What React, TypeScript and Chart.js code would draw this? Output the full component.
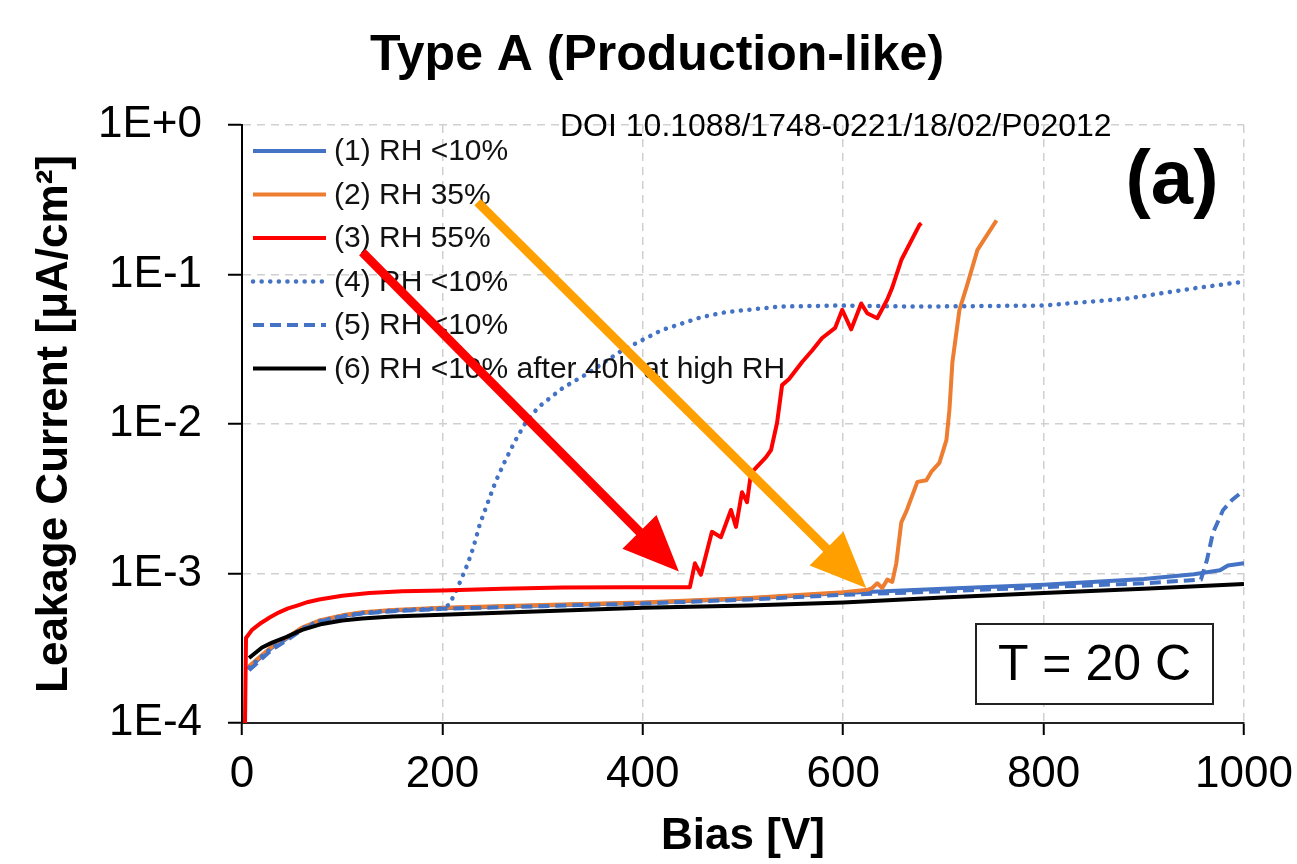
import React, { useEffect, useRef } from 'react';
import { Chart, registerables } from 'chart.js';

Chart.register(...registerables);

const FONT = '"Liberation Sans", Arial, sans-serif';

// ---- axis ticks ----
const xTickValues = [0, 200, 400, 600, 800, 1000];
const xTickLabels = ['0', '200', '400', '600', '800', '1000'];
const yTickValues = [1e-4, 1e-3, 1e-2, 1e-1, 1];
const yTickLabels = ['1E-4', '1E-3', '1E-2', '1E-1', '1E+0'];

// ---- legend labels ----
const seriesLabels = [
  '(1) RH <10%',
  '(2) RH 35%',
  '(3) RH 55%',
  '(4) RH <10%',
  '(5) RH <10%',
  '(6) RH <10% after 40h at high RH',
];

// ---- (1) RH <10%  solid blue ----
const s1Bias = [7, 20, 30, 44, 60, 77, 100, 120, 150, 200, 300, 399, 506, 600, 700, 800, 900, 950, 976, 984, 1000];
const s1Current = [2.35e-4, 2.8e-4, 3.2e-4, 3.65e-4, 4.3e-4, 4.8e-4, 5.2e-4, 5.45e-4, 5.65e-4, 5.85e-4, 6.1e-4, 6.35e-4, 6.8e-4, 7.4e-4, 7.9e-4, 8.4e-4, 9.2e-4, 9.9e-4, 1.05e-3, 1.13e-3, 1.17e-3];

// ---- (2) RH 35%  orange ----
const s2Bias = [7, 20, 30, 44, 60, 77, 100, 120, 150, 200, 300, 399, 506, 600, 625, 629, 634, 639, 644, 649, 653, 658, 663, 674, 683, 688, 696, 703, 706, 709, 716, 723, 734, 753];
const s2Current = [2.4e-4, 2.85e-4, 3.25e-4, 3.7e-4, 4.35e-4, 4.85e-4, 5.25e-4, 5.5e-4, 5.7e-4, 5.9e-4, 6.15e-4, 6.4e-4, 6.85e-4, 7.5e-4, 7.8e-4, 8.0e-4, 8.6e-4, 8.0e-4, 9.1e-4, 8.8e-4, 1.17e-3, 2.2e-3, 2.6e-3, 4.1e-3, 4.2e-3, 4.8e-3, 5.5e-3, 7.8e-3, 1.24e-2, 2.6e-2, 5.8e-2, 8.2e-2, 0.146, 0.23];

// ---- (3) RH 55%  red ----
const s3Bias = [3, 4, 10, 19, 28, 37, 46, 55, 66, 77, 100, 127, 160, 200, 260, 320, 380, 447, 452, 458, 469, 478, 488, 493, 499, 504, 508, 523, 528, 534, 539, 546, 559, 569, 579, 592, 599, 608, 618, 624, 634, 644, 649, 658, 676, 678];
const s3Current = [1e-4, 3.7e-4, 4.2e-4, 4.67e-4, 5.1e-4, 5.5e-4, 5.85e-4, 6.1e-4, 6.45e-4, 6.7e-4, 7.1e-4, 7.4e-4, 7.6e-4, 7.7e-4, 7.9e-4, 8.05e-4, 8.1e-4, 8.1e-4, 1.17e-3, 9.8e-4, 1.9e-3, 1.75e-3, 2.66e-3, 2.05e-3, 3.5e-3, 3.0e-3, 4.7e-3, 6.0e-3, 6.7e-3, 1.02e-2, 1.82e-2, 2.0e-2, 2.6e-2, 3.1e-2, 3.76e-2, 4.4e-2, 5.8e-2, 4.3e-2, 6.4e-2, 5.5e-2, 5.1e-2, 6.8e-2, 8.2e-2, 0.125, 0.214, 0.22];

// ---- (4) RH <10%  dotted blue ----
const s4Bias = [7, 20, 30, 44, 60, 77, 100, 120, 150, 200, 207, 213, 219, 225, 231, 237, 245, 253, 263, 273, 283, 296, 320, 346, 379, 419, 459, 483, 536, 596, 676, 800, 883, 951, 997];
const s4Current = [2.35e-4, 2.8e-4, 3.2e-4, 3.65e-4, 4.3e-4, 4.8e-4, 5.2e-4, 5.45e-4, 5.65e-4, 5.85e-4, 6.2e-4, 7.5e-4, 9.2e-4, 1.15e-3, 1.5e-3, 2.1e-3, 2.95e-3, 4.1e-3, 5.75e-3, 7.8e-3, 1.02e-2, 1.3e-2, 1.74e-2, 2.2e-2, 3.1e-2, 4.25e-2, 5.2e-2, 5.6e-2, 6.1e-2, 6.2e-2, 6.1e-2, 6.2e-2, 6.9e-2, 8.1e-2, 8.9e-2];

// ---- (5) RH <10%  dashed blue ----
const s5Bias = [7, 20, 30, 44, 60, 77, 100, 120, 150, 200, 300, 399, 506, 600, 700, 800, 900, 957, 963, 969, 979, 988, 1000];
const s5Current = [2.25e-4, 2.7e-4, 3.1e-4, 3.55e-4, 4.2e-4, 4.75e-4, 5.15e-4, 5.4e-4, 5.6e-4, 5.8e-4, 6.05e-4, 6.3e-4, 6.7e-4, 7.2e-4, 7.6e-4, 8.1e-4, 8.6e-4, 9.1e-4, 1.23e-3, 1.87e-3, 2.65e-3, 3.1e-3, 3.6e-3];

// ---- (6) RH <10% after 40h at high RH  black ----
const s6Bias = [7, 20, 30, 44, 60, 80, 100, 120, 150, 200, 300, 400, 506, 600, 700, 800, 900, 1000];
const s6Current = [2.72e-4, 3.2e-4, 3.45e-4, 3.75e-4, 4.2e-4, 4.6e-4, 4.85e-4, 5.0e-4, 5.15e-4, 5.3e-4, 5.6e-4, 5.9e-4, 6.1e-4, 6.4e-4, 6.9e-4, 7.4e-4, 7.9e-4, 8.5e-4];

// ---- annotation arrows (data coordinates: [bias, current]) ----
const redArrowFrom = [120, 0.141];
const redArrowTo = [436, 1.03e-3];
const orangeArrowFrom = [235, 0.305];
const orangeArrowTo = [623, 8.0e-4];

const pts = (xs: number[], ys: number[]) => xs.map((x, i) => ({ x, y: ys[i] }));

function drawArrow(ctx: CanvasRenderingContext2D, x1: number, y1: number, x2: number, y2: number, color: string) {
  const ang = Math.atan2(y2 - y1, x2 - x1);
  const headLen = 56;
  const headHalf = 24;
  const bx = x2 - headLen * Math.cos(ang);
  const by = y2 - headLen * Math.sin(ang);
  ctx.save();
  ctx.strokeStyle = color;
  ctx.fillStyle = color;
  ctx.lineWidth = 9;
  ctx.lineCap = 'butt';
  ctx.beginPath();
  ctx.moveTo(x1, y1);
  ctx.lineTo(bx + 2 * Math.cos(ang), by + 2 * Math.sin(ang));
  ctx.stroke();
  ctx.beginPath();
  ctx.moveTo(x2, y2);
  ctx.lineTo(bx + headHalf * Math.sin(ang), by - headHalf * Math.cos(ang));
  ctx.lineTo(bx - headHalf * Math.sin(ang), by + headHalf * Math.cos(ang));
  ctx.closePath();
  ctx.fill();
  ctx.restore();
}

const overlayPlugin = {
  id: 'overlay',
  afterDraw(chart: any) {
    const { ctx, chartArea, scales } = chart;
    const xs = scales.x;
    const ys = scales.y;

    // Title
    ctx.save();
    ctx.fillStyle = '#000';
    ctx.textAlign = 'center';
    ctx.textBaseline = 'middle';
    ctx.font = `bold 50px ${FONT}`;
    ctx.fillText('Type A (Production-like)', 657, 56);

    // DOI
    ctx.font = `32px ${FONT}`;
    ctx.textAlign = 'left';
    ctx.fillText('DOI 10.1088/1748-0221/18/02/P02012', 560, 127);

    // (a)
    ctx.font = `bold 76px ${FONT}`;
    ctx.textAlign = 'center';
    ctx.fillText('(a)', 1172, 182);

    // Legend
    const datasets = chart.data.datasets;
    ctx.font = `30px ${FONT}`;
    ctx.textAlign = 'left';
    for (let i = 0; i < datasets.length; i++) {
      const ds = datasets[i];
      const y = chartArea.top + 26 + i * 43.5;
      ctx.save();
      ctx.strokeStyle = ds.borderColor;
      ctx.lineWidth = ds.borderWidth;
      ctx.setLineDash(ds.borderDash || []);
      ctx.lineCap = ds.borderCapStyle || 'butt';
      ctx.beginPath();
      ctx.moveTo(chartArea.left + 11, y);
      ctx.lineTo(chartArea.left + 84, y);
      ctx.stroke();
      ctx.restore();
      ctx.fillStyle = '#111';
      ctx.fillText(ds.label, chartArea.left + 92, y + 1);
    }

    // T = 20 C box
    const bw = 237, bh = 80;
    const bxr = chartArea.right - 31;
    const byb = chartArea.bottom - 19;
    ctx.lineWidth = 2;
    ctx.strokeStyle = '#222';
    ctx.setLineDash([]);
    ctx.fillStyle = '#fff';
    ctx.fillRect(bxr - bw, byb - bh, bw, bh);
    ctx.strokeRect(bxr - bw, byb - bh, bw, bh);
    ctx.fillStyle = '#000';
    ctx.font = `50px ${FONT}`;
    ctx.textAlign = 'center';
    ctx.fillText('T = 20 C', bxr - bw / 2, byb - bh / 2 + 2);
    ctx.restore();

    // Arrows
    drawArrow(ctx, xs.getPixelForValue(redArrowFrom[0]), ys.getPixelForValue(redArrowFrom[1]),
      xs.getPixelForValue(redArrowTo[0]), ys.getPixelForValue(redArrowTo[1]), '#FF0000');
    drawArrow(ctx, xs.getPixelForValue(orangeArrowFrom[0]), ys.getPixelForValue(orangeArrowFrom[1]),
      xs.getPixelForValue(orangeArrowTo[0]), ys.getPixelForValue(orangeArrowTo[1]), '#FFA000');
  },
};

export default function App() {
  const ref = useRef<HTMLCanvasElement | null>(null);

  useEffect(() => {
    if (!ref.current) return;
    const blue = '#4472C4';
    const base = { pointRadius: 0, fill: false, tension: 0, borderJoinStyle: 'round' as const };
    const chart = new Chart(ref.current, {
      type: 'line',
      data: {
        datasets: [
          { ...base, label: seriesLabels[0], data: pts(s1Bias, s1Current), borderColor: blue, borderWidth: 4, order: 6 },
          { ...base, label: seriesLabels[1], data: pts(s2Bias, s2Current), borderColor: '#ED7D31', borderWidth: 4, order: 5 },
          { ...base, label: seriesLabels[2], data: pts(s3Bias, s3Current), borderColor: '#FF0000', borderWidth: 4, order: 1 },
          { ...base, label: seriesLabels[3], data: pts(s4Bias, s4Current), borderColor: blue, borderWidth: 4.5, borderDash: [0.1, 8.5], borderCapStyle: 'round', order: 3 },
          { ...base, label: seriesLabels[4], data: pts(s5Bias, s5Current), borderColor: blue, borderWidth: 4, borderDash: [11, 6], order: 4 },
          { ...base, label: seriesLabels[5], data: pts(s6Bias, s6Current), borderColor: '#000000', borderWidth: 4, order: 2 },
        ],
      },
      options: {
        animation: false,
        responsive: false,
        devicePixelRatio: 1,
        layout: { padding: { left: 0, right: 53, top: 125, bottom: 0 } },
        plugins: {
          legend: { display: false },
          title: { display: false },
          tooltip: { enabled: false },
        },
        scales: {
          x: {
            type: 'linear',
            min: 0,
            max: 1000,
            afterBuildTicks: (scale: any) => {
              scale.ticks = xTickValues.map((v) => ({ value: v }));
            },
            afterFit: (scale: any) => {
              scale.height = 141;
              scale.paddingLeft = 0;
              scale.paddingRight = 0;
            },
            ticks: {
              font: { family: FONT, size: 44 },
              color: '#000',
              padding: 13,
              maxRotation: 0,
              autoSkip: false,
              callback: (value: any) => {
                const i = xTickValues.indexOf(Number(value));
                return i >= 0 ? xTickLabels[i] : '';
              },
            },
            grid: {
              color: '#d0d0d0',
              lineWidth: 1.5,
              tickColor: '#000',
              tickWidth: 2,
              tickLength: 12,
              tickBorderDash: [],
            },
            border: { display: true, color: '#222', width: 2, dash: [8, 6] },
            title: {
              display: true,
              text: 'Bias [V]',
              font: { family: FONT, size: 44, weight: 'bold' },
              color: '#000',
              padding: { top: 0, bottom: 1 },
            },
          },
          y: {
            type: 'logarithmic',
            min: 1e-4,
            max: 1,
            afterBuildTicks: (scale: any) => {
              scale.ticks = yTickValues.map((v) => ({ value: v }));
            },
            afterFit: (scale: any) => {
              scale.width = 242;
            },
            ticks: {
              font: { family: FONT, size: 44 },
              color: '#000',
              padding: 26,
              autoSkip: false,
              callback: (value: any) => {
                const i = yTickValues.findIndex((t) => Math.abs(Math.log10(t) - Math.log10(Number(value))) < 1e-6);
                return i >= 0 ? yTickLabels[i] : '';
              },
            },
            grid: {
              color: '#d0d0d0',
              lineWidth: 1.5,
              tickColor: '#000',
              tickWidth: 2,
              tickLength: 14,
              tickBorderDash: [],
            },
            border: { display: true, color: '#000', width: 2, dash: [8, 6] },
            title: {
              display: true,
              text: 'Leakage Current [μA/cm²]',
              font: { family: FONT, size: 44, weight: 'bold' },
              color: '#000',
              padding: { top: 28, bottom: 0 },
            },
          },
        },
      },
      plugins: [overlayPlugin],
    } as any);
    return () => chart.destroy();
  }, []);

  return (
    <div style={{ position: 'absolute', left: 0, top: 0, width: 1297, height: 864, background: '#fff' }}>
      <canvas ref={ref} width={1297} height={864} />
    </div>
  );
}
